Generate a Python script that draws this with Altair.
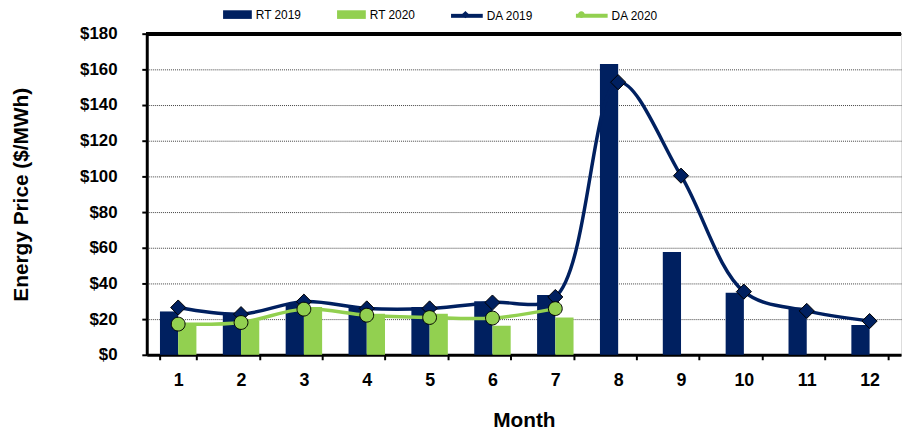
import altair as alt
import pandas as pd

months = [1, 2, 3, 4, 5, 6, 7, 8, 9, 10, 11, 12]
rt_2019 = [24.3, 23.0, 28.7, 26.6, 26.8, 30.0, 33.5, 163.0, 57.6, 34.8, 26.5, 16.7]
rt_2020 = [16.3, 19.0, 26.8, 23.0, 23.0, 16.3, 20.9]
da_2019 = [26.5, 22.8, 29.8, 26.0, 26.0, 29.3, 32.4, 152.8, 100.4, 35.4, 24.6, 18.9]
da_2020 = [17.2, 18.1, 25.6, 22.2, 20.9, 20.6, 25.9]
y_ticks = [0, 20, 40, 60, 80, 100, 120, 140, 160, 180]

NAVY = "#002060"
GREEN = "#92D050"
FONT = "Liberation Sans"

bars = pd.DataFrame(
    [{"month": m, "series": "RT 2019", "value": v} for m, v in zip(months, rt_2019)]
    + [{"month": m, "series": "RT 2020", "value": v} for m, v in zip(months, rt_2020)]
)
lines = pd.DataFrame(
    [{"month": m, "series": "DA 2019", "value": v} for m, v in zip(months, da_2019)]
    + [{"month": m, "series": "DA 2020", "value": v} for m, v in zip(months, da_2020)]
)
lines["marker"] = lines["series"] + "_m"

x_axis = alt.Axis(
    title="Month", labelAngle=0, tickBand="extent", grid=False,
    domainColor="black", domainWidth=3, tickColor="black", tickWidth=2, tickSize=5,
    labelFont=FONT, labelFontSize=18, labelFontWeight="bold", labelColor="black",
    labelPadding=12,
    titleFont=FONT, titleFontSize=21, titleFontWeight="bold", titleColor="black",
    titleY=66, titleBaseline="middle",
)
y_axis = alt.Axis(
    values=y_ticks, tickCount=20, labelOverlap=False,
    labelExpr="'$' + datum.value", title="Energy Price ($/MWh)",
    grid=True, gridColor="#404040", gridDash=[1, 1], gridWidth=1,
    domainColor="black", domainWidth=3, tickColor="black", tickWidth=2, tickSize=5,
    labelFont=FONT, labelFontSize=17, labelFontWeight="bold", labelColor="black",
    labelPadding=25,
    titleFont=FONT, titleFontSize=21, titleFontWeight="bold", titleColor="black",
    titleX=-126, titleY=162, titleAngle=-90, titleBaseline="middle", titleAlign="center",
)
x_scale = alt.Scale(domain=months, paddingInner=0.42, paddingOuter=0.21)
y_scale = alt.Scale(domain=[0, 180], nice=False)


def X():
    return alt.X("month:O", scale=x_scale, axis=x_axis)


def Y():
    return alt.Y("value:Q", scale=y_scale, axis=y_axis)


bar = alt.Chart(bars).mark_bar().encode(
    x=X(),
    xOffset=alt.XOffset("series:N", scale=alt.Scale(domain=["RT 2019", "RT 2020"], paddingInner=0, paddingOuter=0)),
    y=Y(),
    color=alt.Color(
        "series:N",
        scale=alt.Scale(domain=["RT 2019", "RT 2020"], range=[NAVY, GREEN]),
        legend=alt.Legend(
            title=None, orient="none", legendX=77, legendY=-34, direction="horizontal",
            symbolType="M-1,-0.3H1V0.3H-1Z", symbolSize=841, symbolStrokeWidth=0,
            labelFont=FONT, labelFontSize=12, labelColor="black", labelOffset=4,
            columnPadding=36, padding=0,
        ),
    ),
)

line = alt.Chart(lines).mark_line(interpolate="catmull-rom", strokeWidth=3.5).encode(
    x=X(),
    y=Y(),
    stroke=alt.Stroke(
        "series:N",
        scale=alt.Scale(domain=["DA 2019", "DA 2020"], range=[NAVY, GREEN]),
        legend=alt.Legend(
            title=None, orient="none", legendX=305, legendY=-36, direction="horizontal",
            symbolType="stroke", symbolSize=1024, symbolStrokeWidth=4,
            labelFont=FONT, labelFontSize=12, labelColor="black", labelOffset=2,
            columnPadding=35, padding=0,
        ),
    ),
)

DIAMOND = "M0,-0.23L0.23,0L0,0.23L-0.23,0Z"
CIRCLE = "M-0.21,0A0.21,0.21 0 1,0 0.21,0A0.21,0.21 0 1,0 -0.21,0Z"
marker_legend = alt.Legend(
    title=None, orient="none", legendX=305, legendY=-36, direction="horizontal",
    symbolSize=1024, symbolStrokeWidth=1, symbolStrokeColor="black",
    labelFont=FONT, labelFontSize=12, labelOffset=2, labelExpr="''",
    columnPadding=82, padding=0,
)
pts = alt.Chart(lines).mark_point(filled=True, stroke="black", strokeWidth=1, opacity=1, size=4400).encode(
    x=X(),
    y=Y(),
    fill=alt.Fill("marker:N", scale=alt.Scale(domain=["DA 2019_m", "DA 2020_m"], range=[NAVY, GREEN]), legend=marker_legend),
    shape=alt.Shape("marker:N", scale=alt.Scale(domain=["DA 2019_m", "DA 2020_m"], range=[DIAMOND, CIRCLE]), legend=marker_legend),
)

top_rule = alt.Chart(bars).mark_rule(color="black", strokeWidth=3).encode(
    y=alt.datum(y_ticks[-1]), x=alt.value(0), x2=alt.value(761)
)

chart = (
    alt.layer(bar, line, pts, top_rule)
    .properties(
        width=761, height=324,
        autosize=alt.AutoSizeParams(type="none"),
        padding={"left": 140, "top": 24, "right": 2, "bottom": 78},
    )
    .configure_view(stroke=None)
    .configure(background="white")
)

chart.save("out.html", embed_options={"renderer": "svg", "actions": False})
